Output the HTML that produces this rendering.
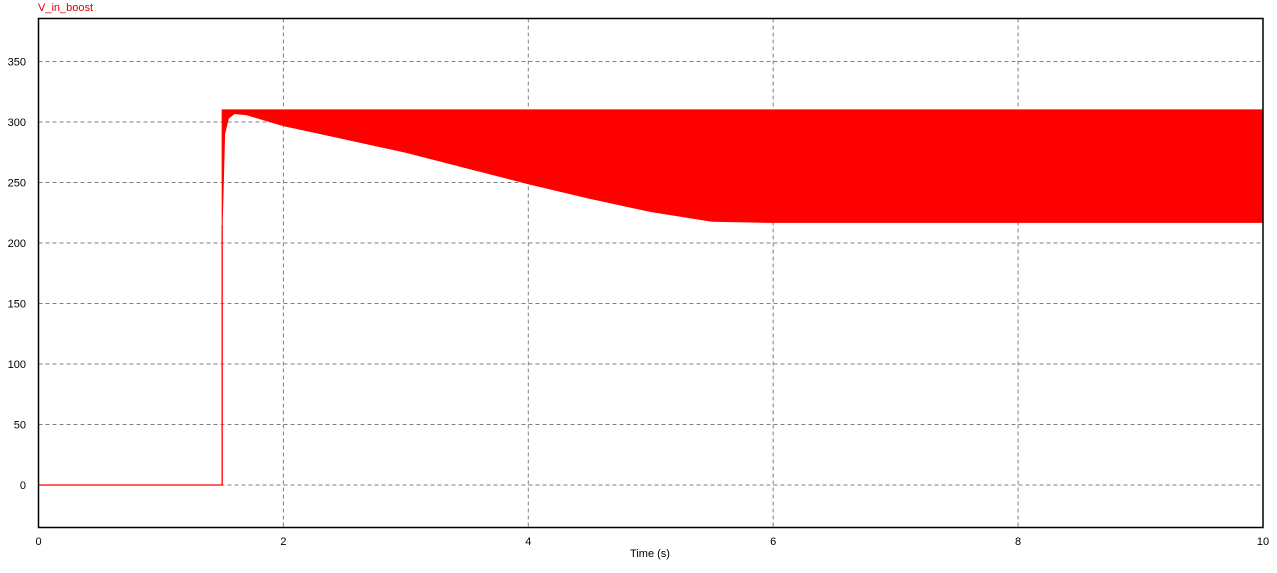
<!DOCTYPE html>
<html><head><meta charset="utf-8"><style>
body{margin:0;background:#fff;width:1277px;height:568px;overflow:hidden;font-family:"Liberation Sans",sans-serif}
text{font-family:"Liberation Sans",sans-serif;font-size:11px}
</style></head><body>
<svg id="chart" width="1277" height="568"></svg>
<script>
const xTicks=[0,2,4,6,8,10];
const yTicks=[0,50,100,150,200,250,300,350];
const upperValue=310;
const lowT=[1.5,1.52,1.55,1.6,1.7,1.8,2,2.5,3,3.5,4,4.5,5,5.5,6,7,8,9,10];
const lowV=[215,290,303,307,306,303,297,286,275,262,249,237,226,218,217,217,217,217,217];
const L=38.5,R=1263,T=18.5,B=527.5;
const xs=t=>L+(t-0)/10*(R-L);
const ys=v=>485-v*1.21;
const svg=document.getElementById('chart');
const NS='http://www.w3.org/2000/svg';
function mk(tag,attrs){const e=document.createElementNS(NS,tag);for(const k in attrs)e.setAttribute(k,attrs[k]);svg.appendChild(e);return e;}
xTicks.forEach(t=>{
 if(t>0&&t<10){const g=mk('line',{x1:xs(t),x2:xs(t),y1:T,y2:B,stroke:'#808080','stroke-dasharray':'4,3'});
 
 }
 const tx=mk('text',{x:xs(t),y:545,'text-anchor':'middle',fill:'#000'});tx.textContent=t;
 
 
});
yTicks.forEach(v=>{
 const g=mk('line',{x1:L,x2:R,y1:ys(v),y2:ys(v),stroke:'#808080','stroke-dasharray':'4,3'});
 
 
 const tx=mk('text',{x:26,y:ys(v)+4,'text-anchor':'end',fill:'#000'});tx.textContent=v;
 
 
});
// flat zero part + step
const pre=mk('polyline',{points:`${xs(0)},${ys(0)} ${xs(lowT[0])},${ys(0)} ${xs(lowT[0])},${ys(lowV[0])}`,fill:'none',stroke:'#f00','stroke-width':1.3});


let pts=`${xs(lowT[0])},${ys(upperValue)} ${xs(10)},${ys(upperValue)} `;
for(let i=lowT.length-1;i>=0;i--)pts+=`${xs(lowT[i])},${ys(lowV[i])} `;
const band=mk('polygon',{points:pts,fill:'#f00',stroke:'#f00','stroke-width':1});


const frame=mk('rect',{x:L,y:T,width:R-L,height:B-T,fill:'none',stroke:'#000','stroke-width':1.5});


const title=mk('text',{x:38,y:11,fill:'#e00000'});title.textContent='V_in_boost';


const xt=mk('text',{x:650,y:557,'text-anchor':'middle',fill:'#000','font-size':'10px'});xt.textContent='Time (s)';


</script>
</body></html>
